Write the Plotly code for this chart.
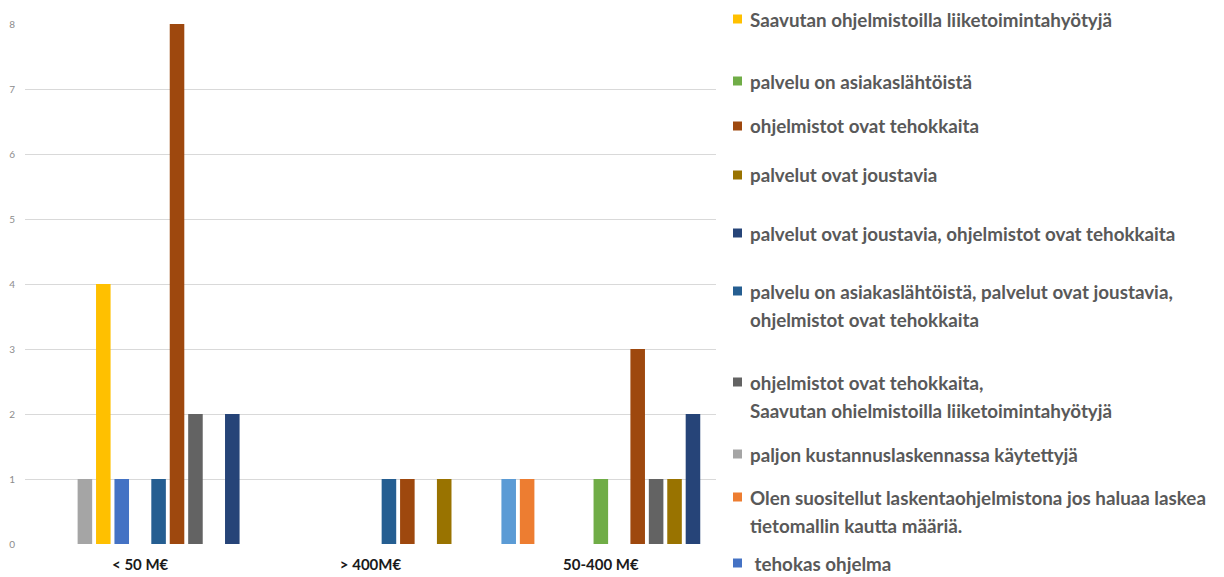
import plotly.graph_objects as go

# Revenue classes (x categories)
categories = ["< 50 M€", "> 400M€", "50-400 M€"]

# Answer series in plotting order (one bar slot each inside a class)
series_names = [
    "",
    "Olen suositellut laskentaohjelmistona jos haluaa laskea<br>tietomallin kautta määriä.",
    "paljon kustannuslaskennassa käytettyjä",
    "Saavutan ohjelmistoilla liiketoimintahyötyjä",
    "\u00a0tehokas ohjelma",
    "palvelu on asiakaslähtöistä",
    "palvelu on asiakaslähtöistä, palvelut ovat joustavia,<br>ohjelmistot ovat tehokkaita",
    "ohjelmistot ovat tehokkaita",
    "ohjelmistot ovat tehokkaita,<br>Saavutan ohielmistoilla liiketoimintahyötyjä",
    "palvelut ovat joustavia",
    "palvelut ovat joustavia, ohjelmistot ovat tehokkaita",
]
series_colors = [
    "#5B9BD5", "#ED7D31", "#A5A5A5", "#FFC000", "#4472C4", "#70AD47",
    "#255E91", "#9E480E", "#636363", "#997300", "#264478",
]
series_values = [
    [0, 0, 1],
    [0, 0, 1],
    [1, 0, 0],
    [4, 0, 0],
    [1, 0, 0],
    [0, 0, 1],
    [1, 1, 0],
    [8, 1, 3],
    [2, 0, 1],
    [0, 1, 1],
    [2, 0, 2],
]
y_ticks = [0, 1, 2, 3, 4, 5, 6, 7, 8]

# Order of the entries in the side legend (indices into the series lists)
legend_order = [3, 5, 7, 9, 10, 6, 8, 2, 1, 4]

W, H = 1224, 577
ML, MR, MT, MB = 25, 508, 24, 33
PW, PH = W - ML - MR, H - MT - MB

fig = go.Figure()
for name, color, vals in zip(series_names, series_colors, series_values):
    fig.add_trace(go.Bar(
        x=categories, y=vals, name=name.replace("<br>", " ").strip(),
        marker=dict(color=color, line=dict(width=0)),
        showlegend=False,
    ))


def px_x(px):
    return (px - ML) / PW


def px_y(py):
    return (H - MB - py) / PH


# Hand-laid legend: first-line pixel rows of each entry
legend_rows = [19, 81, 126, 175, 233, 291, 382, 454, 497, 563]
line_step = 28
text_font = dict(family="Lato", size=18.8, color="#595959", weight="bold")
shapes = []
annotations = []
for idx, row in zip(legend_order, legend_rows):
    shapes.append(dict(
        type="rect", xref="paper", yref="paper",
        x0=px_x(733), x1=px_x(742), y0=px_y(row + 4.5), y1=px_y(row - 4.5),
        fillcolor=series_colors[idx], line=dict(width=0),
    ))
    for k, line in enumerate(series_names[idx].split("<br>")):
        annotations.append(dict(
            xref="paper", yref="paper", x=px_x(748), y=px_y(row + k * line_step),
            xanchor="left", yanchor="middle", text=line, showarrow=False,
            font=text_font,
        ))

fig.update_layout(
    width=W, height=H,
    margin=dict(l=ML, r=MR, t=MT, b=MB, autoexpand=False),
    paper_bgcolor="white", plot_bgcolor="white",
    barmode="group", bargap=0.12, bargroupgap=0.21,
    shapes=shapes, annotations=annotations,
    showlegend=False,
    xaxis=dict(
        showgrid=False, showline=False, zeroline=False, ticks="",
        tickfont=dict(family="Lato", size=15, color="#1a1a1a", weight="bold"),
        ticklabelstandoff=10, automargin=False,
    ),
    yaxis=dict(
        range=[0, 8], tickvals=y_ticks, showgrid=True, gridcolor="#D9D9D9",
        gridwidth=1, zeroline=False, showline=False, ticks="",
        tickfont=dict(family="Lato", size=10, color="#8C8C8C"),
        ticklabelstandoff=9, automargin=False,
    ),
)

fig.write_html("out.html")
